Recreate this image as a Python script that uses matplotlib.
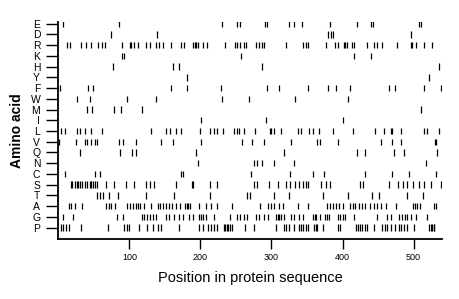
import matplotlib
matplotlib.use('Agg')
import matplotlib.pyplot as plt

# amino acids, top to bottom as shown on the y axis
aminoAcids = ['E', 'D', 'R', 'K', 'H', 'Y', 'F', 'W', 'M', 'I',
              'L', 'V', 'Q', 'N', 'C', 'S', 'T', 'A', 'G', 'P']
seqLength = 540

# positions of each residue in the sequence
E = [6, 85, 231, 252, 256, 291, 293, 325, 332, 343, 383, 421, 440, 443, 507, 511]
D = [74, 139, 380, 384, 387, 496]
R = [12, 17, 32, 39, 46, 56, 62, 66, 90, 101, 103, 106, 112, 124, 129, 138, 142, 147, 159, 172,
     177, 190, 192, 194, 197, 203, 209, 234, 248, 251, 255, 261, 264, 278, 283, 286, 290, 320, 345,
     348, 352, 376, 389, 393, 402, 404, 406, 413, 416, 435, 444, 448, 456, 477, 496, 498, 504, 515, 526]
K = [89, 93, 257, 416, 440]
H = [77, 162, 170, 287, 535]
Y = [181, 521]
F = [2, 42, 49, 158, 181, 229, 294, 311, 352, 380, 391, 410, 465, 474, 514, 538]
W = [27, 44, 96, 138, 230, 269, 333, 408]
M = [40, 48, 78, 88, 118, 510]
I = [201, 292, 400]
L = [4, 10, 27, 31, 37, 46, 62, 131, 152, 157, 166, 173, 200, 214, 219, 223, 232, 247, 251, 254,
     261, 277, 298, 300, 304, 313, 337, 341, 353, 359, 367, 386, 414, 446, 458, 468, 470, 482, 515,
     519, 536]
V = [1, 25, 37, 41, 46, 51, 55, 86, 91, 110, 145, 161, 201, 259, 273, 290, 328, 364, 368, 394,
     454, 469, 482, 530, 532]
Q = [31, 87, 104, 109, 194, 318, 421, 432, 472, 486, 533]
N = [197, 275, 280, 286, 304, 331, 518]
C = [9, 51, 58, 172, 176, 271, 326, 359, 374, 432, 469, 494, 532]
S = [18, 20, 23, 26, 28, 31, 33, 37, 41, 44, 46, 49, 52, 54, 67, 79, 95, 106, 124, 129, 135, 166,
     188, 190, 214, 224, 275, 280, 296, 309, 320, 326, 333, 339, 344, 348, 352, 369, 376, 382, 425,
     429, 466, 478, 485, 491, 499, 507, 515, 524, 538]
T = [54, 58, 63, 72, 84, 123, 163, 214, 265, 270, 303, 324, 372, 408, 441, 451, 490, 513]
A = [15, 18, 23, 34, 67, 71, 74, 80, 96, 101, 105, 109, 112, 115, 121, 131, 140, 143, 147, 152,
     156, 160, 165, 171, 179, 181, 183, 186, 198, 208, 215, 223, 245, 284, 295, 300, 303, 311, 316,
     338, 352, 378, 383, 386, 391, 395, 401, 411, 414, 417, 423, 428, 432, 438, 444, 449, 454, 461,
     475, 499, 502, 505, 509, 529, 531]
G = [7, 21, 82, 91, 118, 121, 125, 129, 133, 137, 152, 156, 163, 170, 175, 184, 189, 198, 201, 204,
     208, 219, 242, 252, 256, 261, 266, 278, 283, 290, 295, 306, 309, 311, 314, 318, 327, 332, 339,
     344, 359, 361, 363, 368, 375, 378, 381, 394, 397, 401, 404, 416, 449, 463, 468, 480, 484, 488,
     491, 497, 504, 519]
P = [4, 7, 11, 15, 32, 70, 93, 96, 99, 114, 125, 133, 140, 145, 170, 198, 203, 210, 215, 219, 223,
     233, 235, 237, 239, 241, 245, 263, 276, 306, 317, 320, 324, 331, 339, 342, 345, 348, 352, 360,
     362, 364, 372, 393, 397, 419, 422, 425, 428, 432, 435, 444, 456, 460, 463, 468, 474, 479, 482,
     486, 491, 501, 522, 524, 526, 528, 529]

positions = [E, D, R, K, H, Y, F, W, M, I, L, V, Q, N, C, S, T, A, G, P]
xTicks = [100, 200, 300, 400, 500]

plt.rcParams['font.family'] = ['Liberation Sans', 'DejaVu Sans']

fig = plt.figure(figsize=(4.6, 2.99), dpi=100)
ax = fig.add_axes([0.1267, 0.2017, 0.8343, 0.7246])

n = len(aminoAcids)
rows = [n - 1 - i for i in range(n)]          # E on top, P at bottom
ax.eventplot(positions, orientation='horizontal', lineoffsets=rows,
             linelengths=0.6, linewidths=0.9, colors='black')

ax.set_xlim(0, seqLength)
ax.set_ylim(-1.03, n - 1 + 0.15)
ax.set_yticks(rows)
ax.set_yticklabels(aminoAcids, fontsize=7.5)
ax.set_xticks(xTicks)
ax.set_xticklabels([str(t) for t in xTicks], fontsize=6.5)

ax.spines['top'].set_visible(False)
ax.spines['right'].set_visible(False)
ax.spines['left'].set_linewidth(1.3)
ax.spines['bottom'].set_linewidth(1.3)
ax.tick_params(axis='y', length=9, width=1.0, pad=4)
ax.tick_params(axis='x', length=7.5, width=1.0, pad=3)

ax.set_xlabel('Position in protein sequence', fontsize=10.5, labelpad=6)
ax.set_ylabel('Amino acid', fontsize=10, fontweight='bold', labelpad=5)

fig.savefig('out.png', dpi=100)
